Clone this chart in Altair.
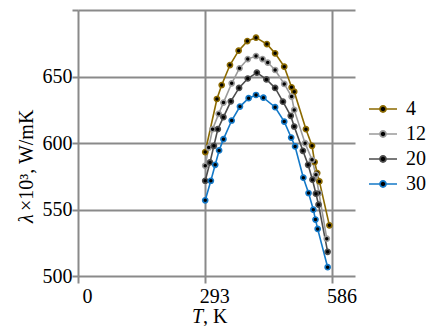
import altair as alt
import pandas as pd

# Series labels
series = ["4", "12", "20", "30"]
colors = ["#8c6a00", "#9a9a9a", "#4d4d4d", "#1479c8"]

# Temperature (K) and thermal conductivity (lambda x 10^3, W/mK) per series
t_4 = [293, 320, 331, 350, 370, 390, 410, 435, 454, 475, 492, 498, 525, 539, 545, 551, 556, 579]
l_4 = [593.2, 633.1, 643.6, 658.6, 669.4, 676.6, 679.2, 674.4, 667.4, 657.4, 641.9, 638.6, 610.4, 597.9, 585.7, 577.4, 571.1, 538.1]

t_12 = [293, 301, 310, 324, 335, 354, 372, 391, 410, 425, 437, 454, 475, 492, 498, 523, 539, 548, 555, 573]
l_12 = [582.9, 596.6, 610.4, 621.9, 630.4, 644.9, 656.2, 663.1, 665.4, 663.1, 660.5, 654.9, 644.4, 634.9, 624.9, 599.9, 587.4, 576.1, 562.4, 528.1]

t_20 = [293, 304, 313, 322, 335, 352, 371, 391, 412, 434, 454, 472, 490, 498, 518, 530, 540, 548, 554, 575]
l_20 = [571.6, 585.4, 597.9, 610.4, 619.4, 631.3, 641.4, 648.5, 652.9, 647.8, 641.4, 631.1, 620.4, 612.4, 594.1, 583.6, 572.4, 561.9, 553.6, 518.2]

t_30 = [293, 306, 316, 325, 335, 354, 373, 393, 410, 427, 454, 475, 491, 500, 519, 531, 542, 547, 552, 575]
l_30 = [556.9, 571.6, 583.6, 594.4, 602.9, 616.9, 627.4, 633.7, 636.1, 634.1, 626.9, 616.1, 604.1, 597.4, 573.9, 562.4, 549.9, 542.4, 535.4, 506.6]

x_ticks = [0, 293, 586]
y_ticks = [500, 550, 600, 650, 700]

rows = []
for name, ts, ls in [("4", t_4, l_4), ("12", t_12, l_12), ("20", t_20, l_20), ("30", t_30, l_30)]:
    for i, (t, l) in enumerate(zip(ts, ls)):
        rows.append({"series": name, "T": t, "lam": l, "order": i})
df = pd.DataFrame(rows)

FONT = "Liberation Serif"
FS = 20
GRID = "#8a8a8a"

legend_path = "M-1,0L-0.22,0 M0.22,0L1,0 M-0.22,0A0.22,0.22 0 1,1 0.22,0A0.22,0.22 0 1,1 -0.22,0Z"

color_scale = alt.Scale(domain=series, range=colors)

x_enc = alt.X(
    "T:Q",
    scale=alt.Scale(domain=[0, 638], nice=False, zero=False),
    axis=alt.Axis(
        values=x_ticks, title=None, grid=True, gridColor=GRID, gridWidth=2,
        domain=False, ticks=True, tickColor=GRID, tickWidth=2, tickSize=7,
        labelFont=FONT, labelFontSize=FS, labelColor="black", labelPadding=3,
        labelOffset=9, labelFlush=False,
    ),
)
y_enc = alt.Y(
    "lam:Q",
    scale=alt.Scale(domain=[500, 700], nice=False, zero=False),
    axis=alt.Axis(
        values=y_ticks, title=None, grid=True, gridColor=GRID, gridWidth=2,
        domain=False, ticks=True, tickColor=GRID, tickWidth=2, tickSize=6,
        labelFont=FONT, labelFontSize=FS, labelColor="black", labelPadding=0,
        labelExpr="datum.value == 700 ? '' : datum.label", labelFlush=False,
    ),
)

stroke_enc = alt.Stroke(
    "series:N", scale=color_scale, sort=series,
    legend=alt.Legend(
        title=None, orient="none", legendX=290, legendY=84,
        symbolType=legend_path, symbolSize=784, symbolStrokeWidth=1.6,
        symbolFillColor="black", labelFont=FONT, labelFontSize=FS,
        labelColor="black", rowPadding=0, labelOffset=8,
    ),
)

lines = alt.Chart(df).mark_line(strokeWidth=1.6).encode(
    x=x_enc, y=y_enc, stroke=stroke_enc, order="order:Q", detail="series:N"
)
points = alt.Chart(df).mark_point(filled=False, fill="black", fillOpacity=1, size=26, strokeWidth=1.6, opacity=1).encode(
    x=x_enc, y=y_enc, stroke=stroke_enc
)

# Axis titles, with the italic symbols set apart
title_df = pd.DataFrame({"sym_y": ["λ"], "rest_y": ["×10³, W/mK"], "sym_x": ["T"], "rest_x": [", K"]})
base_t = alt.Chart(title_df)
y_sym = base_t.mark_text(font=FONT, fontSize=FS, fontStyle="italic", angle=270, align="left", baseline="middle", color="black").encode(
    x=alt.value(-51), y=alt.value(213), text="sym_y:N")
y_rest = base_t.mark_text(font=FONT, fontSize=FS, angle=270, align="left", baseline="middle", color="black").encode(
    x=alt.value(-51), y=alt.value(201), text="rest_y:N")
x_sym = base_t.mark_text(font=FONT, fontSize=FS, fontStyle="italic", align="left", baseline="alphabetic", color="black").encode(
    x=alt.value(114), y=alt.value(313), text="sym_x:N")
x_rest = base_t.mark_text(font=FONT, fontSize=FS, align="left", baseline="alphabetic", color="black").encode(
    x=alt.value(125), y=alt.value(313), text="rest_x:N")

chart = alt.layer(lines, points, y_sym, y_rest, x_sym, x_rest).properties(
    width=277, height=266,
    autosize=alt.AutoSizeParams(type="none"),
    padding={"left": 70, "top": 2, "right": 73, "bottom": 50},
).configure(font=FONT).configure_axis(labelFont=FONT).configure_legend(labelFont=FONT).configure_view(strokeWidth=0)

chart.save("out.html", embed_options={"renderer": "svg", "actions": False})
